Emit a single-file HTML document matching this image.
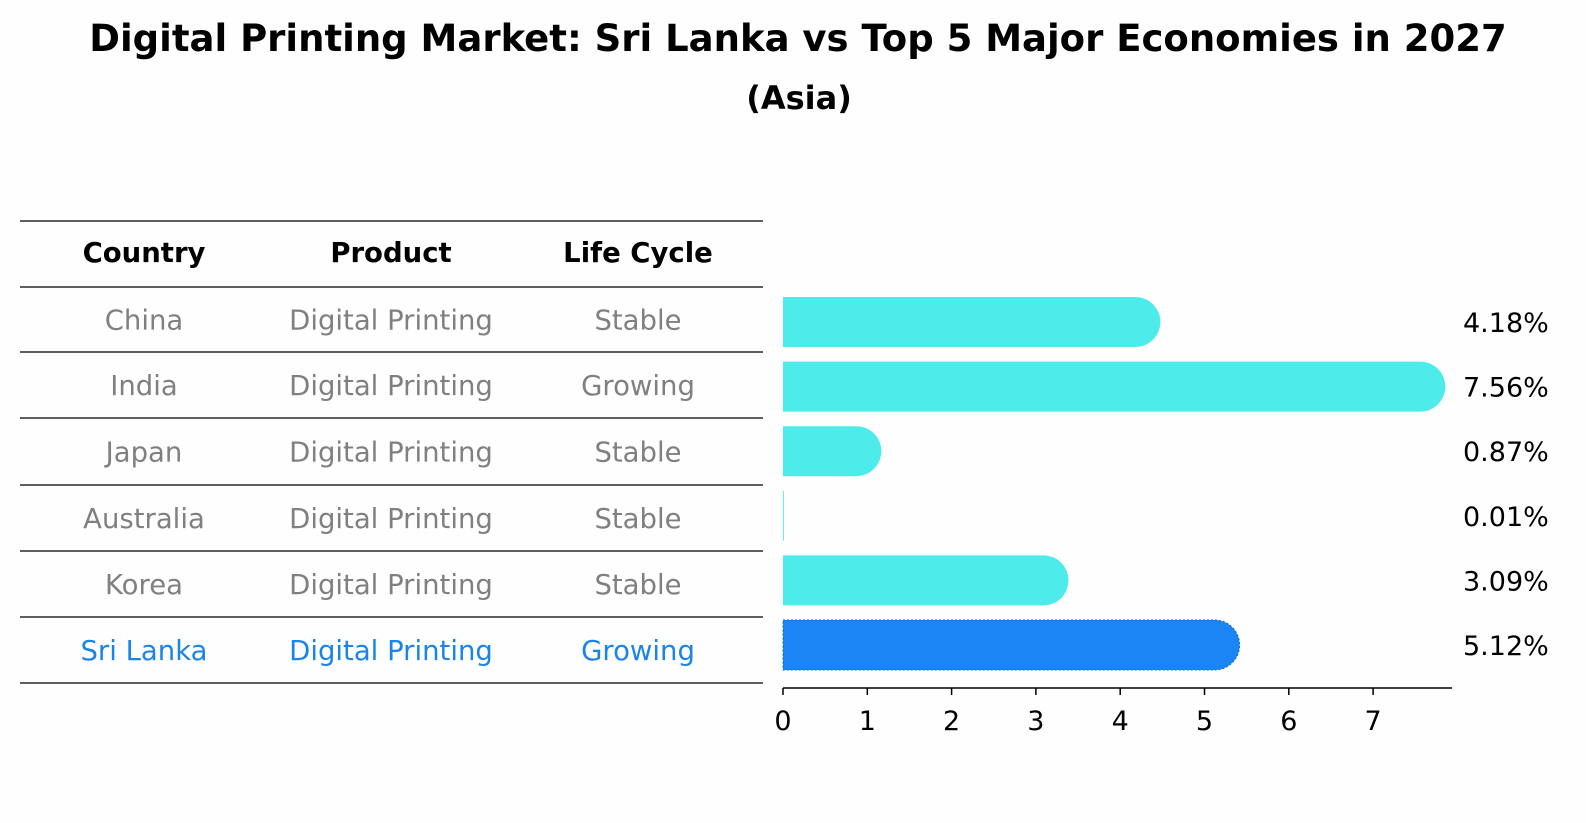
<!DOCTYPE html>
<html><head><meta charset="utf-8"><style>
html,body{margin:0;padding:0;width:1586px;height:823px;overflow:hidden;background:#fefefe;}
svg{display:block;font-family:"DejaVu Sans","Liberation Sans",sans-serif;}
</style></head><body>
<svg id="c" width="1586" height="823" viewBox="0 0 1586 823">
<text x="798" y="51" text-anchor="middle" font-size="37" font-weight="bold">Digital Printing Market: Sri Lanka vs Top 5 Major Economies in 2027</text>
<text x="799" y="109" text-anchor="middle" font-size="32" font-weight="bold">(Asia)</text>
<g id="table"></g>
<g id="bars"></g>
</svg>
<script>
const countries=["China","India","Japan","Australia","Korea","Sri Lanka"];
const products=["Digital Printing","Digital Printing","Digital Printing","Digital Printing","Digital Printing","Digital Printing"];
const lifecycles=["Stable","Growing","Stable","Stable","Stable","Growing"];
const values=[4.18,7.56,0.87,0.01,3.09,5.12];
const ticks=[0,1,2,3,4,5,6,7];
const NS="http://www.w3.org/2000/svg";
function mk(t,a,p){const e=document.createElementNS(NS,t);for(const k in a)e.setAttribute(k,a[k]);p.appendChild(e);return e;}
const tb=document.getElementById('table'),bg=document.getElementById('bars');
const lineYs=[221,287,352,418,485,551,617,683];
lineYs.forEach(y=>{const l=mk('line',{x1:20,x2:763,y1:y,y2:y,stroke:'#000','stroke-width':1.2},tb);

});
const colX=[144,391,638];
["Country","Product","Life Cycle"].forEach((h,i)=>{const t=mk('text',{x:colX[i],y:262,'text-anchor':'middle','font-size':27.5,'font-weight':'bold'},tb);t.textContent=h;

});
const rowY=i=>(lineYs[i+1]+lineYs[i+2])/2+10;
countries.forEach((c,i)=>{const col=i===countries.length-1?'#1a85e8':'#808080';
[c,products[i],lifecycles[i]].forEach((v,j)=>{const t=mk('text',{x:colX[j],y:rowY(i),'text-anchor':'middle','font-size':27.5,fill:col},tb);t.textContent=v;

});});
const x0=783,ppu=84.3,xs=v=>x0+v*ppu;
const barY=i=>322+i*64.6,h=50,r=25;
values.forEach((v,i)=>{const last=i===values.length-1;const col=last?'#1a85f5':'#4deceb';
const yc=barY(i),xe=xs(v);let d;
if(v<0.05){d=`M${x0} ${yc-h/2}H${xe}V${yc+h/2}H${x0}Z`;}
else d=`M${x0} ${yc-h/2}H${xe}A${r} ${r} 0 0 1 ${xe} ${yc+h/2}H${x0}Z`;
const p=mk('path',{d:d,fill:col},bg);
if(last){p.setAttribute('stroke','#1565c0');p.setAttribute('stroke-dasharray','2 2');p.setAttribute('stroke-width','1');}


const t=mk('text',{x:1463,y:yc+10,'font-size':27},bg);t.textContent=v.toFixed(2)+'%';

});
const ax=mk('line',{x1:x0,x2:1452,y1:688,y2:688,stroke:'#000','stroke-width':1.5},bg);


ticks.forEach(v=>{const l=mk('line',{x1:xs(v),x2:xs(v),y1:688,y2:695,stroke:'#000','stroke-width':1.5},bg);


const t=mk('text',{x:xs(v),y:730,'text-anchor':'middle','font-size':27},bg);t.textContent=v;

});
</script>
</body></html>
